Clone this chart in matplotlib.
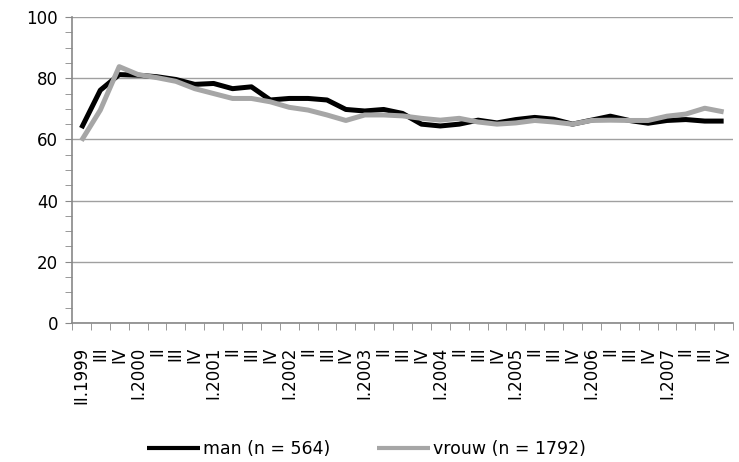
import matplotlib.pyplot as plt
from matplotlib.ticker import MultipleLocator, FixedLocator

# quarters II.1999 .. IV.2007
labels = ["II.1999", "III", "IV"]
for yr in range(2000, 2008):
    labels += ["I." + str(yr), "II", "III", "IV"]

man = [63.7, 76.1, 81.2, 81.0, 80.5, 79.6, 78.0, 78.3, 76.6, 77.2,
       72.9, 73.4, 73.4, 72.9, 69.8, 69.3, 69.8, 68.5, 65.0, 64.4,
       65.0, 66.3, 65.4, 66.5, 67.2, 66.6, 65.0, 66.3, 67.6, 66.2,
       65.3, 66.2, 66.5, 66.0, 66.0]
vrouw = [59.6, 69.6, 83.8, 81.2, 80.2, 79.0, 76.6, 75.0, 73.4, 73.4,
         72.3, 70.5, 69.6, 68.0, 66.2, 68.0, 68.0, 67.7, 66.9, 66.3,
         66.9, 65.7, 65.0, 65.4, 66.2, 65.7, 65.0, 66.2, 66.3, 66.2,
         66.2, 67.6, 68.3, 70.2, 69.0]

plt.rcParams['font.family'] = 'DejaVu Sans'
fig = plt.figure(figsize=(7.39, 4.62), dpi=100)
ax = fig.add_axes([0.0974, 0.301, 0.8946, 0.662])

x = list(range(len(labels)))
ax.plot(x, man, color='black', lw=3.6, solid_capstyle='butt', label='man (n = 564)')
ax.plot(x, vrouw, color='#a6a6a6', lw=3.6, solid_capstyle='butt', label='vrouw (n = 1792)')

ax.set_xlim(-0.5, len(labels) - 0.5)
ax.set_ylim(0, 100)
ax.yaxis.set_major_locator(MultipleLocator(20))
ax.yaxis.set_minor_locator(MultipleLocator(5))
ax.grid(axis='y', which='major', color='#a0a0a0', lw=1)
ax.set_axisbelow(True)

ax.set_xticks(x)
ax.set_xticklabels(labels, rotation=90, fontsize=12)
ax.xaxis.set_minor_locator(FixedLocator([i - 0.5 for i in range(len(labels) + 1)]))
ax.tick_params(axis='x', which='major', length=0, pad=17)
ax.tick_params(axis='x', which='minor', length=5, color='#888888', direction='out')
ax.tick_params(axis='y', which='both', length=5, color='#888888', direction='out', labelsize=12, pad=5)

for s in ['top', 'right']:
    ax.spines[s].set_visible(False)
for s in ['left', 'bottom']:
    ax.spines[s].set_color('#888888')
    ax.spines[s].set_linewidth(1.2)

leg = fig.legend(loc='center left', bbox_to_anchor=(147 / 739, 1 - 449 / 462), ncol=2,
                 frameon=False, fontsize=12.5, handlelength=3.05, handletextpad=0.17,
                 columnspacing=2.7, borderpad=0, borderaxespad=0)
for h in leg.get_lines():
    h.set_linewidth(3)

fig.savefig('out.png', dpi=100)
